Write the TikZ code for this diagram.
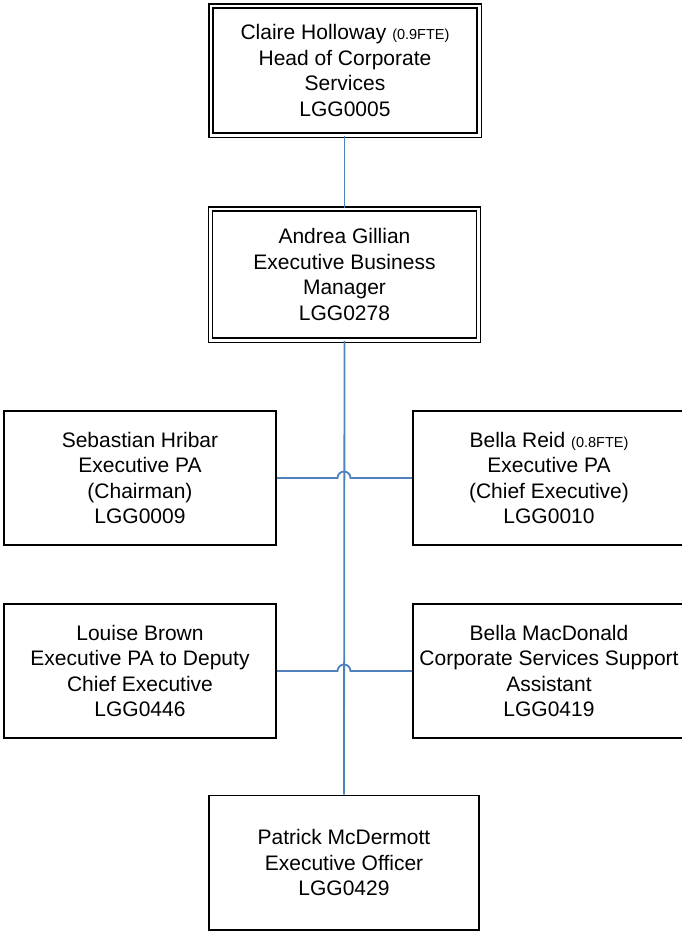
\documentclass[tikz,border=0pt]{standalone}
\usepackage{fontspec}
\setmainfont{Liberation Sans}
\usetikzlibrary{calc}
\definecolor{linkblue}{RGB}{79,129,189}

\begin{document}
\begin{tikzpicture}[x=1pt,y=-1pt,
  every node/.style={align=center,inner sep=0pt,font=\fontsize{21}{25.5}\selectfont},
  post/.style={draw,rectangle,line width=1.6pt,minimum width=272.4pt,minimum height=134.4pt},
  head/.style={draw,rectangle,line width=1.4pt,double,double distance=2.8pt,minimum width=268.2pt,minimum height=129.2pt},
  link/.style={draw=linkblue,line width=1.8pt}]
\useasboundingbox (0,0) rectangle (682,932);
\newcommand{\fte}[1]{{\fontsize{14.5}{25.5}\selectfont #1}}
\node[head]                        (a) at (345,70.5)  { Claire Holloway \fte{(0.9FTE)}\\ Head of Corporate\\ Services\\ LGG0005 };
\node[head,minimum height=131.2pt] (b) at (344.5,274.5) { Andrea Gillian\\ Executive Business\\ Manager\\ LGG0278 };
\node[post]                        (c) at (140,478)   { Sebastian Hribar\\ Executive PA\\ (Chairman)\\ LGG0009 };
\node[post]                        (d) at (549,478)   { Bella Reid \fte{(0.8FTE)}\\ Executive PA\\ (Chief Executive)\\ LGG0010 };
\node[post]                        (e) at (140,671)   { Louise Brown\\ Executive PA to Deputy\\ Chief Executive\\ LGG0446 };
\node[post]                        (f) at (549,671)   { Bella MacDonald\\ Corporate Services Support\\ Assistant\\ LGG0419 };
\node[post,minimum width=270.4pt]  (g) at (344,862.7) { Patrick McDermott\\ Executive Officer\\ LGG0429 };
\draw[link] (a.south -| b.north) -- (b.north);
\draw[link] (b.south) -- (g.north);
\draw[link] (c.east) -- ($(c.east -| g.north)+(-6.5,0)$) arc[start angle=180,end angle=0,radius=6.5pt] -- (d.west);
\draw[link] (e.east) -- ($(e.east -| g.north)+(-6.5,0)$) arc[start angle=180,end angle=0,radius=6.5pt] -- (f.west);
\end{tikzpicture}
\end{document}
